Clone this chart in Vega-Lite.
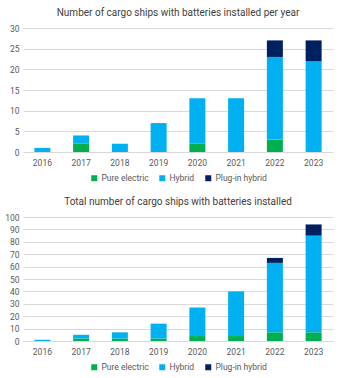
{
  "$schema": "https://vega.github.io/schema/vega-lite/v6.json",
  "background": "white",
  "padding": {"left": 4, "top": 8, "right": 6, "bottom": 4},
  "spacing": 14,
  "datasets": {
    "annual": [
      {"year": "2016", "type": "Hybrid", "order": 2, "n": 1},
      {"year": "2017", "type": "Pure electric", "order": 1, "n": 2},
      {"year": "2017", "type": "Hybrid", "order": 2, "n": 2},
      {"year": "2018", "type": "Hybrid", "order": 2, "n": 2},
      {"year": "2019", "type": "Hybrid", "order": 2, "n": 7},
      {"year": "2020", "type": "Pure electric", "order": 1, "n": 2},
      {"year": "2020", "type": "Hybrid", "order": 2, "n": 11},
      {"year": "2021", "type": "Hybrid", "order": 2, "n": 13},
      {"year": "2022", "type": "Pure electric", "order": 1, "n": 3},
      {"year": "2022", "type": "Hybrid", "order": 2, "n": 20},
      {"year": "2022", "type": "Plug-in hybrid", "order": 3, "n": 4},
      {"year": "2023", "type": "Hybrid", "order": 2, "n": 22},
      {"year": "2023", "type": "Plug-in hybrid", "order": 3, "n": 5}
    ],
    "total": [
      {"year": "2016", "type": "Hybrid", "order": 2, "n": 1},
      {"year": "2017", "type": "Pure electric", "order": 1, "n": 2},
      {"year": "2017", "type": "Hybrid", "order": 2, "n": 3},
      {"year": "2018", "type": "Pure electric", "order": 1, "n": 2},
      {"year": "2018", "type": "Hybrid", "order": 2, "n": 5},
      {"year": "2019", "type": "Pure electric", "order": 1, "n": 2},
      {"year": "2019", "type": "Hybrid", "order": 2, "n": 12},
      {"year": "2020", "type": "Pure electric", "order": 1, "n": 4},
      {"year": "2020", "type": "Hybrid", "order": 2, "n": 23},
      {"year": "2021", "type": "Pure electric", "order": 1, "n": 4},
      {"year": "2021", "type": "Hybrid", "order": 2, "n": 36},
      {"year": "2022", "type": "Pure electric", "order": 1, "n": 7},
      {"year": "2022", "type": "Hybrid", "order": 2, "n": 56},
      {"year": "2022", "type": "Plug-in hybrid", "order": 3, "n": 4},
      {"year": "2023", "type": "Pure electric", "order": 1, "n": 7},
      {"year": "2023", "type": "Hybrid", "order": 2, "n": 78},
      {"year": "2023", "type": "Plug-in hybrid", "order": 3, "n": 9}
    ]
  },
  "resolve": {"scale": {"color": "independent", "y": "independent"}, "legend": {"color": "independent"}},
  "vconcat": [
    {
      "data": {"name": "annual"},
      "width": 310,
      "height": 124,
      "title": {"text": "Number of cargo ships with batteries installed per year"},
      "mark": {"type": "bar", "width": 16},
      "encoding": {
        "x": {"field": "year", "type": "nominal", "title": null, "axis": {"labelAngle": 0}},
        "y": {"field": "n", "type": "quantitative", "title": null, "scale": {"domain": [0, 30]}, "axis": {"values": [0, 5, 10, 15, 20, 25, 30]}},
        "color": {"field": "type", "type": "nominal", "title": null,
          "scale": {"domain": ["Pure electric", "Hybrid", "Plug-in hybrid"], "range": ["#00B050", "#00B0F0", "#002060"]}},
        "order": {"field": "order", "type": "quantitative"}
      }
    },
    {
      "data": {"name": "total"},
      "width": 310,
      "height": 124,
      "title": {"text": "Total number of cargo ships with batteries installed"},
      "mark": {"type": "bar", "width": 16},
      "encoding": {
        "x": {"field": "year", "type": "nominal", "title": null, "axis": {"labelAngle": 0}},
        "y": {"field": "n", "type": "quantitative", "title": null, "scale": {"domain": [0, 100]}, "axis": {"values": [0, 10, 20, 30, 40, 50, 60, 70, 80, 90, 100]}},
        "color": {"field": "type", "type": "nominal", "title": null,
          "scale": {"domain": ["Pure electric", "Hybrid", "Plug-in hybrid"], "range": ["#00B050", "#00B0F0", "#002060"]}},
        "order": {"field": "order", "type": "quantitative"}
      }
    }
  ],
  "config": {
    "font": "Roboto",
    "view": {"stroke": null},
    "title": {"fontSize": 10, "fontWeight": "normal", "color": "#404040", "offset": 6, "anchor": "middle"},
    "axis": {"labelFont": "Roboto", "labelFontSize": 8.5, "labelColor": "#595959", "ticks": false, "domain": false, "gridColor": "#D9D9D9", "gridWidth": 1, "labelPadding": 4},
    "axisX": {"grid": false, "domain": true, "domainColor": "#D9D9D9", "labelPadding": 6},
    "axisY": {"grid": true},
    "scale": {"bandPaddingInner": 0.5, "bandPaddingOuter": 0.25},
    "legend": {"orient": "bottom", "direction": "horizontal", "gridAlign": "none", "symbolType": "square", "symbolSize": 36, "symbolStrokeWidth": 0, "labelFontSize": 8.5, "labelColor": "#595959", "columnPadding": 9, "padding": 0, "offset": 7, "labelOffset": 3, "layout": {"bottom": {"anchor": "middle"}}}
  }
}
